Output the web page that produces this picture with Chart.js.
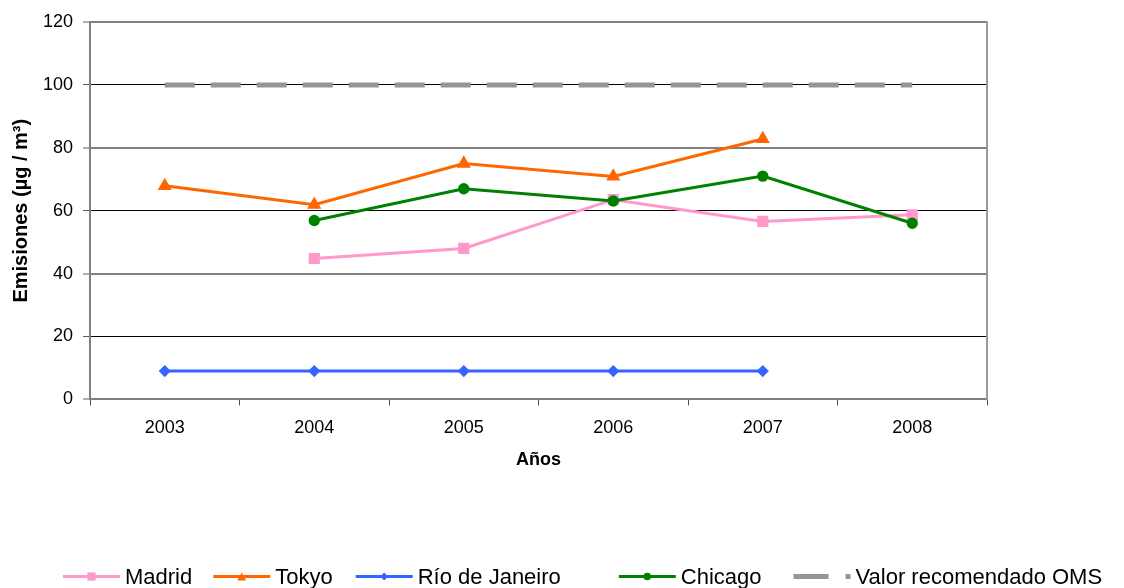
<!DOCTYPE html>
<html lang="es">
<head>
<meta charset="utf-8">
<title>Emisiones por ciudad</title>
<script src="https://cdn.jsdelivr.net/npm/chart.js@4/dist/chart.umd.min.js"></script>
<style>
  html, body { margin: 0; padding: 0; background: #ffffff; }
  #wrap { width: 1124px; height: 588px; position: relative; }
</style>
</head>
<body>
<div id="wrap"><canvas id="chart" width="1124" height="588"></canvas></div>
<script>
// Años y concentraciones medidas (µg / m³)
const years = ['2003', '2004', '2005', '2006', '2007', '2008'];
const madrid = [null, 44.8, 48.0, 63.5, 56.6, 58.7];
const tokyo = [67.9, 61.9, 75.0, 70.9, 82.8, null];
const rioDeJaneiro = [9, 9, 9, 9, 9, null];
const chicago = [null, 56.9, 67.0, 63.1, 71.0, 56.0];
const valorOMS = [100, 100, 100, 100, 100, 100];

const seriesNames = ['Madrid', 'Tokyo', 'Río de Janeiro', 'Chicago', 'Valor recomendado OMS'];
const yTicks = { min: 0, max: 120, step: 20 };

const FONT = '"Liberation Sans", Arial, Helvetica, sans-serif';

// Dibuja un marcador con la misma forma que usan las series
function drawMarker(ctx, style, x, y, r, color) {
  ctx.save();
  ctx.fillStyle = color;
  ctx.beginPath();
  if (style === 'rect') {
    const s = r * Math.SQRT1_2;
    ctx.rect(x - s, y - s, 2 * s, 2 * s);
  } else if (style === 'triangle') {
    for (let k = 0; k < 3; k++) {
      const a = -Math.PI / 2 + k * 2 * Math.PI / 3;
      const px = x + Math.cos(a) * r, py = y + Math.sin(a) * r + r * 0.25;
      k === 0 ? ctx.moveTo(px, py) : ctx.lineTo(px, py);
    }
    ctx.closePath();
  } else if (style === 'rectRot') {
    ctx.moveTo(x, y - r); ctx.lineTo(x + r, y); ctx.lineTo(x, y + r); ctx.lineTo(x - r, y);
    ctx.closePath();
  } else if (style === 'circle') {
    ctx.arc(x, y, r, 0, Math.PI * 2);
  }
  ctx.fill();
  ctx.restore();
}

// Leyenda inferior: muestra de línea + marcador + nombre
const legendGaps = [21, 23, 58, 32];
const lineLegend = {
  id: 'lineLegend',
  afterDraw(chart) {
    const ctx = chart.ctx;
    const y = chart.height - 11.5;
    let x = 63;
    ctx.save();
    ctx.font = '22px ' + FONT;
    ctx.textBaseline = 'middle';
    ctx.textAlign = 'left';
    chart.data.datasets.forEach((ds, i) => {
      const len = 57;
      ctx.save();
      ctx.strokeStyle = ds.borderColor;
      ctx.lineWidth = ds.borderWidth;
      ctx.lineCap = 'butt';
      ctx.setLineDash(ds.legendDash || []);
      ctx.beginPath();
      ctx.moveTo(x, y);
      ctx.lineTo(x + len, y);
      ctx.stroke();
      ctx.restore();
      if (ds.pointRadius > 0) {
        drawMarker(ctx, ds.pointStyle, x + len / 2, y, ds.legendRadius, ds.pointBackgroundColor);
      }
      ctx.fillStyle = '#000000';
      ctx.fillText(ds.label, x + len + 5, y + 1);
      x += len + 5 + ctx.measureText(ds.label).width + (legendGaps[i] || 0);
    });
    ctx.restore();
  }
};

// Borde derecho del área de trazado
const plotFrame = {
  id: 'plotFrame',
  beforeDatasetsDraw(chart) {
    const { ctx, chartArea } = chart;
    ctx.save();
    ctx.strokeStyle = '#9a9a9a';
    ctx.lineWidth = 2;
    ctx.beginPath();
    ctx.moveTo(chartArea.right, chartArea.top - 1);
    ctx.lineTo(chartArea.right, chartArea.bottom);
    ctx.stroke();
    ctx.restore();
  }
};

const isMajorGrid = (ctx) => ctx.tick && (ctx.tick.value % 40 === 0);

new Chart(document.getElementById('chart'), {
  type: 'line',
  data: {
    labels: years,
    datasets: [
      {
        label: seriesNames[0], data: madrid,
        borderColor: '#ff99cc', backgroundColor: '#ff99cc',
        pointBackgroundColor: '#ff99cc', pointBorderColor: '#ff99cc',
        borderWidth: 3, pointStyle: 'rect', pointRadius: 5.8, legendRadius: 5.8,
        order: 4
      },
      {
        label: seriesNames[1], data: tokyo,
        borderColor: '#ff6600', backgroundColor: '#ff6600',
        pointBackgroundColor: '#ff6600', pointBorderColor: '#ff6600',
        borderWidth: 3, pointStyle: 'triangle', pointRadius: 5.2, legendRadius: 5.2,
        order: 3
      },
      {
        label: seriesNames[2], data: rioDeJaneiro,
        borderColor: '#3366ff', backgroundColor: '#3366ff',
        pointBackgroundColor: '#3366ff', pointBorderColor: '#3366ff',
        borderWidth: 3, pointStyle: 'rectRot', pointRadius: 4, legendRadius: 4,
        order: 2
      },
      {
        label: seriesNames[3], data: chicago,
        borderColor: '#008000', backgroundColor: '#008000',
        pointBackgroundColor: '#008000', pointBorderColor: '#008000',
        borderWidth: 3, pointStyle: 'circle', pointRadius: 4.2, legendRadius: 3.8,
        order: 1
      },
      {
        label: seriesNames[4], data: valorOMS,
        borderColor: '#969696', backgroundColor: '#969696',
        pointBackgroundColor: '#969696',
        borderWidth: 5, borderDash: [30, 16], legendDash: [35, 17],
        borderCapStyle: 'butt', pointRadius: 0, pointHoverRadius: 0,
        order: 5
      }
    ]
  },
  options: {
    responsive: false,
    animation: false,
    events: [],
    layout: { padding: { left: 0, right: 137, top: 22, bottom: 119 } },
    elements: { line: { tension: 0, fill: false }, point: { borderWidth: 0 } },
    plugins: {
      legend: { display: false },
      tooltip: { enabled: false }
    },
    scales: {
      x: {
        type: 'category',
        offset: true,
        grid: {
          display: true, offset: true, drawOnChartArea: false,
          drawTicks: true, tickLength: 6, tickColor: '#505050', tickWidth: 1
        },
        border: { display: true, color: '#808080', width: 2 },
        ticks: { color: '#000000', padding: 12, font: { family: FONT, size: 18 }, maxRotation: 0 },
        title: {
          display: true, text: 'Años', color: '#000000',
          font: { family: FONT, size: 18, weight: 'bold', lineHeight: 1.0 },
          padding: { top: 0, bottom: 0 }
        }
      },
      y: {
        min: yTicks.min, max: yTicks.max,
        grid: {
          color: (c) => isMajorGrid(c) ? '#808080' : '#000000',
          lineWidth: (c) => isMajorGrid(c) ? 2 : 1,
          tickLength: 7, tickColor: '#606060', tickWidth: 1
        },
        border: { display: true, color: '#808080', width: 2 },
        ticks: { stepSize: yTicks.step, color: '#000000', padding: 10, font: { family: FONT, size: 18 } },
        title: {
          display: true, text: 'Emisiones (µg / m³)', color: '#000000',
          font: { family: FONT, size: 20, weight: 'bold' },
          padding: { top: 9, bottom: 0 }
        },
        afterFit(axis) { axis.width = 90; }
      }
    }
  },
  plugins: [plotFrame, lineLegend]
});
</script>
</body>
</html>
